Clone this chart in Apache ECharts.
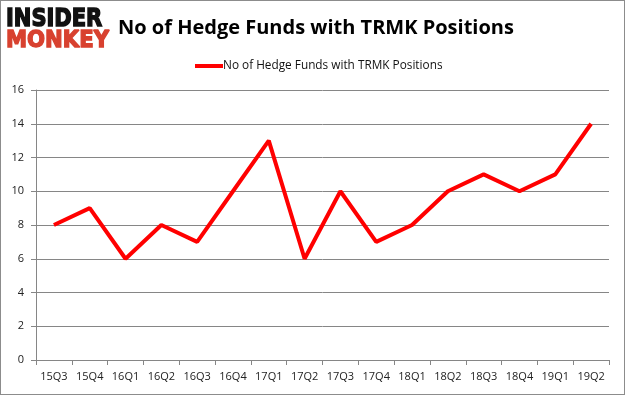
<!DOCTYPE html>
<html><head><meta charset="utf-8">
<script src="https://cdn.jsdelivr.net/npm/echarts@6/dist/echarts.min.js"></script>
<style>html,body{margin:0;padding:0;background:#fff}#c{width:625px;height:395px;box-sizing:border-box;border:1px solid #8c8c8c}</style>
</head><body><div id="c"></div>
<script>
const categories = ['15Q3','15Q4','16Q1','16Q2','16Q3','16Q4','17Q1','17Q2','17Q3','17Q4','18Q1','18Q2','18Q3','18Q4','19Q1','19Q2'];
const seriesName = 'No of Hedge Funds with TRMK Positions';
const values = [8,9,6,8,7,10,13,6,10,7,8,10,11,10,11,14];
const yTicks = {min:0, max:16, interval:2};

const chart = echarts.init(document.getElementById('c'), null, {renderer:'canvas'});
chart.setOption({
  animation:false,
  title:{text:'No of Hedge Funds with TRMK Positions', left:112, top:12,
    textStyle:{fontFamily:'Open Sans', fontWeight:'bold', fontSize:20, color:'#000'}},
  graphic:[
    {type:'text', x:5, y:18, scaleX:1.05, scaleY:1.25,
      style:{text:'INSIDER', x:0, y:0, verticalAlign:'middle', fontFamily:'DejaVu Sans', fontWeight:'900', fontSize:20, fill:'#111', stroke:'#111', lineWidth:1.2}},
    {type:'text', x:5, y:40, scaleX:1.06, scaleY:1.15,
      style:{text:'MONKEY', x:0, y:0, verticalAlign:'middle', fontFamily:'DejaVu Sans', fontWeight:'900', fontSize:20, fill:'#d8412f', stroke:'#d8412f', lineWidth:1.2}}
  ],
  legend:{top:54, left:189, itemWidth:28, itemHeight:4, itemGap:0,
    icon:'rect',
    textStyle:{fontFamily:'Open Sans', fontSize:11.8, color:'#111', padding:[0,0,0,-5]},
    data:[seriesName]},
  grid:{left:35, right:15, top:89, bottom:34},
  xAxis:{type:'category', data:categories, boundaryGap:true,
    axisLine:{lineStyle:{color:'#868686'}},
    axisTick:{show:true, alignWithLabel:false, length:5, lineStyle:{color:'#868686'}},
    axisLabel:{interval:0, fontFamily:'Open Sans', fontSize:11, color:'#222', margin:11}},
  yAxis:{type:'value', min:yTicks.min, max:yTicks.max, interval:yTicks.interval,
    axisLine:{show:true, lineStyle:{color:'#868686'}},
    axisTick:{show:true, length:5, lineStyle:{color:'#868686'}},
    splitLine:{lineStyle:{color:'#868686'}},
    axisLabel:{fontFamily:'Open Sans', fontSize:11, color:'#222', margin:12}},
  series:[{name:seriesName, type:'line', data:values, symbol:'none',
    lineStyle:{color:'#ff0000', width:4}, itemStyle:{color:'#ff0000'}}]
});
</script></body></html>
